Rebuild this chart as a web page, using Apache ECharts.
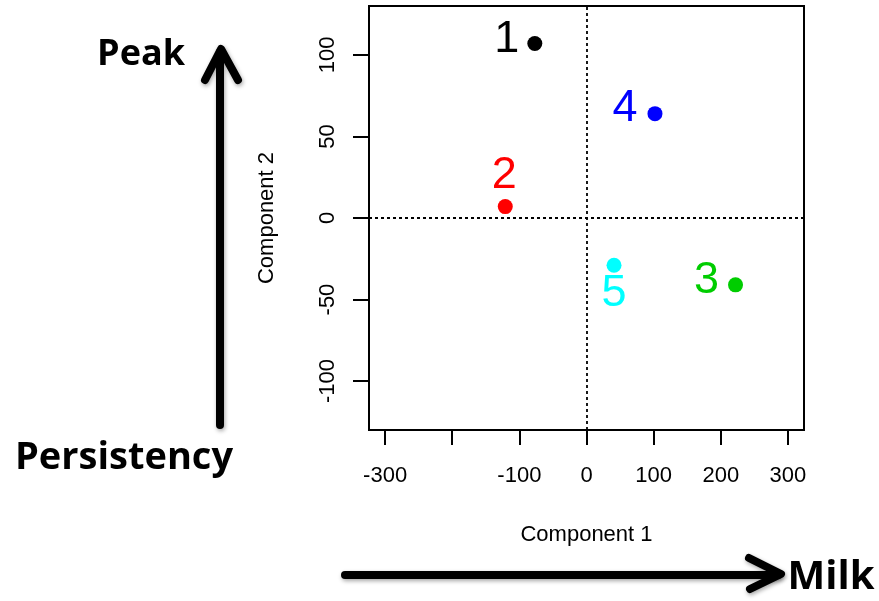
<!DOCTYPE html>
<html>
<head>
<meta charset="utf-8">
<script src="https://cdn.jsdelivr.net/npm/echarts@6/dist/echarts.min.js"></script>
<style>
html,body{margin:0;padding:0;background:#fff;}
#chart{width:879px;height:601px;}
</style>
</head>
<body>
<div id="chart"></div>
<script>
// ---- data ----
const clusterNames = ['1', '2', '3', '4', '5'];
const comp1Values = [-77, -121, 222, 102, 41];
const comp2Values = [107, 7, -41, 64, -29];
const xTickValues = [-300, -200, -100, 0, 100, 200, 300];
const xTickLabels = [-300, -100, 0, 100, 200, 300];
const yTickValues = [-100, -50, 0, 50, 100];

// ---- styles ----
const clusterColors = ['#000000', '#FF0000', '#00CD00', '#0000FF', '#00FFFF'];
const labelOffsets = [[-28, -4], [-1, -31], [-29, -4], [-30, -5], [0, 28]];

const chart = echarts.init(document.getElementById('chart'));
const FONT = 'Liberation Sans';

const points = clusterNames.map((n, i) => ({
  name: n,
  value: [comp1Values[i], comp2Values[i]],
  itemStyle: { color: clusterColors[i], opacity: 1 },
  label: {
    show: true,
    formatter: n,
    position: 'inside',
    offset: labelOffsets[i],
    color: clusterColors[i],
    opacity: 1,
    fontSize: 45,
    fontFamily: FONT
  }
}));

const arrowStyle = { stroke: '#000', lineWidth: 8, lineCap: 'round', lineJoin: 'round',
  shadowBlur: 4, shadowColor: 'rgba(0,0,0,0.35)', shadowOffsetX: 1, shadowOffsetY: 2 };
const boldText = { fontFamily: 'Open Sans', fontWeight: 'bold', fill: '#000' };

chart.setOption({
  animation: false,
  backgroundColor: '#fff',
  grid: { left: 369, top: 6, right: 75, bottom: 171, show: true, borderColor: '#000', borderWidth: 2, backgroundColor: 'transparent' },
  xAxis: {
    type: 'value', min: -324, max: 324,
    name: 'Component 1', nameLocation: 'middle', nameGap: 94,
    nameTextStyle: { fontSize: 22, fontFamily: FONT, color: '#000' },
    axisLine: { show: false, onZero: false },
    axisTick: { show: true, length: 15, lineStyle: { color: '#000', width: 2 }, customValues: xTickValues },
    axisLabel: { show: true, fontSize: 22, fontFamily: FONT, color: '#000', margin: 35, customValues: xTickLabels },
    splitLine: { show: false }
  },
  yAxis: {
    type: 'value', min: -130, max: 130,
    name: 'Component 2', nameLocation: 'middle', nameGap: 91, nameRotate: 90,
    nameTextStyle: { fontSize: 22, fontFamily: FONT, color: '#000' },
    axisLine: { show: false, onZero: false },
    axisTick: { show: true, length: 16, lineStyle: { color: '#000', width: 2 }, customValues: yTickValues },
    axisLabel: { show: true, fontSize: 22, fontFamily: FONT, color: '#000', margin: 30, rotate: 90, customValues: yTickValues },
    splitLine: { show: false }
  },
  series: [{
    type: 'scatter',
    symbolSize: 15,
    itemStyle: { opacity: 1 },
    data: points,
    markLine: {
      silent: true,
      symbol: 'none',
      label: { show: false },
      lineStyle: { color: '#000', type: [3, 3], width: 1.8, opacity: 1 },
      data: [{ xAxis: 0 }, { yAxis: 0 }]
    }
  }],
  graphic: [
    { type: 'line', shape: { x1: 220, y1: 425, x2: 220, y2: 52 }, style: arrowStyle },
    { type: 'polyline', shape: { points: [[205, 80], [221, 49], [238, 80]] }, style: arrowStyle },
    { type: 'line', shape: { x1: 345, y1: 575, x2: 778, y2: 575 }, style: arrowStyle },
    { type: 'polyline', shape: { points: [[749, 558], [781, 574], [750, 589]] }, style: arrowStyle },
    { type: 'text', style: Object.assign({ text: 'Peak', x: 141, y: 55, fontSize: 36, textAlign: 'center', textVerticalAlign: 'middle' }, boldText) },
    { type: 'text', style: Object.assign({ text: 'Persistency', x: 124, y: 458, fontSize: 38, textAlign: 'center', textVerticalAlign: 'middle' }, boldText) },
    { type: 'text', style: Object.assign({ text: 'Milk', x: 831, y: 578, fontSize: 40, textAlign: 'center', textVerticalAlign: 'middle' }, boldText) }
  ]
});
</script>
</body>
</html>
